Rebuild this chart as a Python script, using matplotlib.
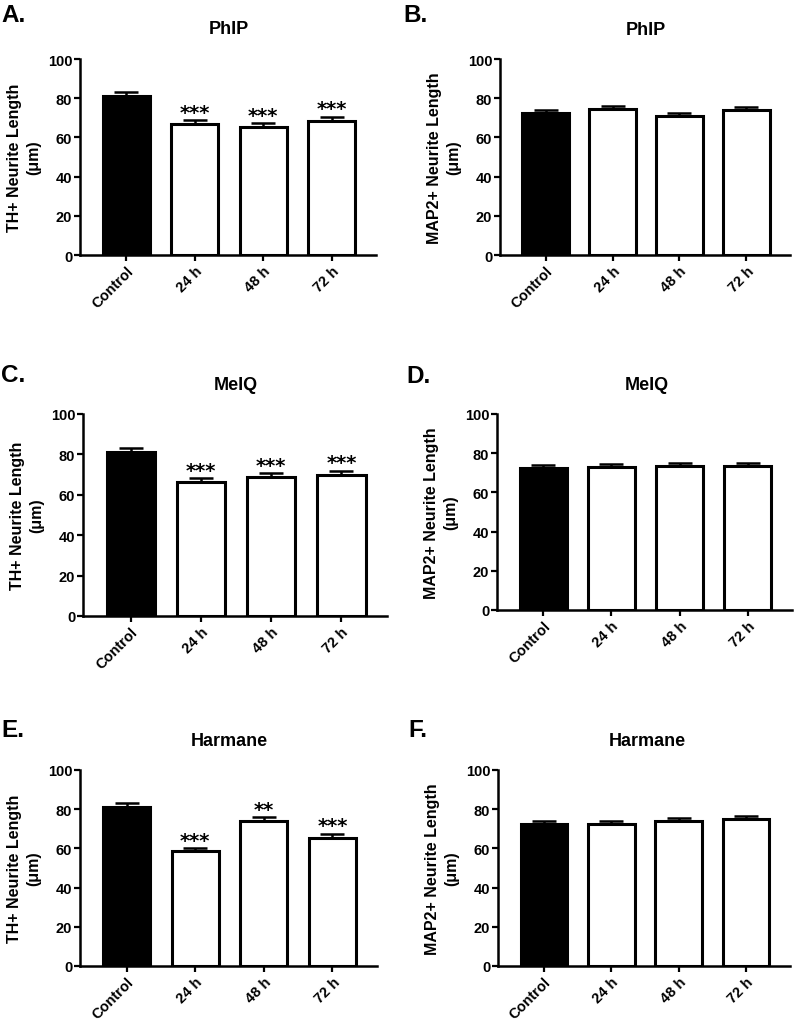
import matplotlib
matplotlib.use("Agg")
import matplotlib.pyplot as plt
import numpy as np

plt.rcParams['font.family'] = ['Liberation Sans', 'DejaVu Sans']
plt.rcParams['font.weight'] = 'bold'

categories = ["Control", "24 h", "48 h", "72 h"]

# TH+ panels (A, C, E)
th_phip = [81.0, 67.0, 65.5, 68.5]
th_phip_err = [2.0, 1.8, 1.8, 2.0]
th_meiq = [81.0, 66.5, 69.0, 70.0]
th_meiq_err = [2.0, 1.8, 1.8, 2.0]
th_harmane = [81.0, 58.5, 74.0, 65.5]
th_harmane_err = [2.0, 1.6, 1.8, 2.0]

# MAP2+ panels (B, D, F)
map2_phip = [72.5, 74.5, 71.0, 74.0]
map2_phip_err = [1.5, 1.6, 1.5, 1.6]
map2_meiq = [72.5, 73.0, 73.5, 73.5]
map2_meiq_err = [1.5, 1.4, 1.5, 1.5]
map2_harmane = [72.5, 72.5, 74.0, 75.0]
map2_harmane_err = [1.5, 1.5, 1.5, 1.6]

sig_phip = ["", "***", "***", "***"]
sig_meiq = ["", "***", "***", "***"]
sig_harmane = ["", "***", "**", "***"]
sig_none = ["", "", "", ""]

yticks = [0, 20, 40, 60, 80, 100]

W, H = 794, 1020
fig = plt.figure(figsize=(W / 100, H / 100), dpi=100)


def px_axes(l, r, b, t):
    return fig.add_axes([l / W, 1 - b / H, (r - l) / W, (b - t) / H])


panels = [
    # letter, title, ylabel, values, errs, sig, (l, r, bottom, top), letter pos (x, baseline), title (x, baseline)
    ("A.", "PhIP", "TH+ Neurite Length\n(μm)", th_phip, th_phip_err, sig_phip, (80, 376, 256, 60), (1, 22), (229, 34)),
    ("B.", "PhIP", "MAP2+ Neurite Length\n(μm)", map2_phip, map2_phip_err, sig_none, (500, 790, 256, 60), (403, 22), (646, 35)),
    ("C.", "MeIQ", "TH+ Neurite Length\n(μm)", th_meiq, th_meiq_err, sig_meiq, (83, 387, 617, 415), (1, 382), (236, 390)),
    ("D.", "MeIQ", "MAP2+ Neurite Length\n(μm)", map2_meiq, map2_meiq_err, sig_none, (497, 792, 611, 415), (406, 383), (647, 390)),
    ("E.", "Harmane", "TH+ Neurite Length\n(μm)", th_harmane, th_harmane_err, sig_harmane, (80, 377, 967, 771), (1, 737), (229, 746)),
    ("F.", "Harmane", "MAP2+ Neurite Length\n(μm)", map2_harmane, map2_harmane_err, sig_none, (498, 790, 967, 771), (408, 737), (647, 746)),
]

x = np.arange(len(categories))
for letter, title, ylabel, vals, errs, sig, box, lpos, tpos in panels:
    l, r, b, t = box
    ax = px_axes(l, r, b, t)
    colors = ["black", "white", "white", "white"]
    ax.bar(x, vals, width=0.69, color=colors, edgecolor="black", linewidth=2.2, zorder=2)
    ax.errorbar(x, vals, yerr=[np.zeros(len(errs)), errs], fmt="none", ecolor="black",
                elinewidth=1.8, capsize=8.5, capthick=1.8, zorder=1)
    for xi, v, e, s in zip(x, vals, errs, sig):
        if s:
            ax.text(xi, v + e + 1.2, s, ha="center", va="baseline", fontsize=14,
                    fontweight="bold", family=["DejaVu Sans"])
    ax.set_xlim(-0.68, 3.65)
    ax.set_ylim(0, 100)
    ax.set_yticks(yticks)
    ax.set_xticks(x)
    ax.set_xticklabels(categories, rotation=45, ha="right", rotation_mode="anchor",
                       fontsize=10.5, fontweight="bold")
    for lab in ax.get_yticklabels():
        lab.set_fontsize(10.5)
        lab.set_fontweight("bold")
    ax.tick_params(axis="both", direction="out", width=1.6, length=4.5, pad=1)
    ax.tick_params(axis="x", pad=1.5)
    for sp in ["top", "right"]:
        ax.spines[sp].set_visible(False)
    for sp in ["left", "bottom"]:
        ax.spines[sp].set_linewidth(1.8)
    ax.set_ylabel(ylabel, fontsize=11.5, fontweight="bold", linespacing=1.35)
    ax.yaxis.set_label_coords(-39.0 / (r - l), 0.5)
    fig.text(lpos[0] / W, 1 - lpos[1] / H, letter, fontsize=17.5, fontweight="bold",
             ha="left", va="baseline")
    fig.text(tpos[0] / W, 1 - tpos[1] / H, title, fontsize=13, fontweight="bold",
             ha="center", va="baseline")

fig.savefig("out.png", dpi=100)
